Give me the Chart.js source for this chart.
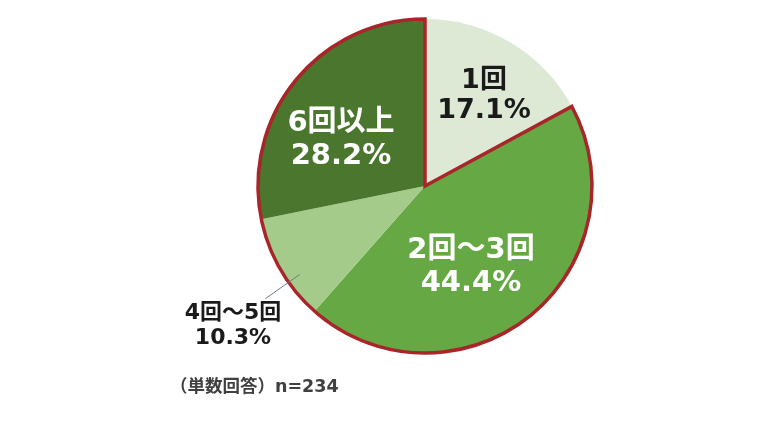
<!DOCTYPE html>
<html>
<head>
<meta charset="utf-8">
<script src="https://cdn.jsdelivr.net/npm/chart.js@4.4.1/dist/chart.umd.min.js"></script>
<style>
  html, body { margin: 0; padding: 0; background: #fff; }
  #wrap { width: 770px; height: 433px; }
</style>
</head>
<body>
<div id="wrap"><canvas id="myChart" width="770" height="433"></canvas></div>
<script>
// data
var categories = ['1回', '2回～3回', '4回～5回', '6回以上'];
var shares = [17.1, 44.4, 10.3, 28.2];
var sliceColors = ['#dde9d4', '#66a843', '#a5cb8b', '#4a772d'];
var note = '（単数回答）n=234';

var FONT = '"DejaVu Sans", "Noto Sans CJK JP", sans-serif';
var RED = '#a8252a';

// label placement (offset from the pie centre) and styling
var labelStyle = [
  { dx: 59,  dy: -90, size: 27, color: '#1a1a1a' },
  { dx: 46,  dy: 81,  size: 29, color: '#ffffff' },
  { dx: -192, dy: 140, size: 22, color: '#1a1a1a' },
  { dx: -84, dy: -46, size: 29, color: '#ffffff' }
];

var outlinePlugin = {
  id: 'outline',
  afterDatasetsDraw: function(chart) {
    var ctx = chart.ctx;
    var arcs = chart.getDatasetMeta(0).data;
    var first = arcs[0];
    var cx = first.x, cy = first.y, r = first.outerRadius;
    // red outline round everything except the first slice
    ctx.save();
    ctx.strokeStyle = RED;
    ctx.lineWidth = 3.5;
    ctx.lineJoin = 'miter';
    ctx.beginPath();
    ctx.moveTo(cx, cy);
    ctx.lineTo(cx + r * Math.cos(first.endAngle), cy + r * Math.sin(first.endAngle));
    ctx.arc(cx, cy, r, first.endAngle, first.startAngle + Math.PI * 2);
    ctx.closePath();
    ctx.stroke();

    // leader line for the small slice
    var a = arcs[2];
    var mid = (a.startAngle + a.endAngle) / 2 - 0.09;
    ctx.strokeStyle = '#6d7b88';
    ctx.lineWidth = 1;
    ctx.beginPath();
    ctx.moveTo(cx + r * 0.92 * Math.cos(mid), cy + r * 0.92 * Math.sin(mid));
    ctx.lineTo(cx + r * 1.17 * Math.cos(mid), cy + r * 1.17 * Math.sin(mid));
    ctx.stroke();

    // slice labels
    ctx.textAlign = 'center';
    ctx.textBaseline = 'middle';
    categories.forEach(function(cat, i) {
      var s = labelStyle[i];
      ctx.fillStyle = s.color;
      ctx.font = 'bold ' + s.size + 'px ' + FONT;
      var gap = s.size * 1.12;
      ctx.fillText(cat, cx + s.dx, cy + s.dy - gap / 2);
      ctx.fillText(shares[i].toFixed(1) + '%', cx + s.dx, cy + s.dy + gap / 2);
    });

    // footnote
    ctx.fillStyle = '#404040';
    ctx.font = 'bold 17.5px ' + FONT;
    ctx.textAlign = 'left';
    ctx.fillText(note, 170, 387);
    ctx.restore();
  }
};

var ctx = document.getElementById('myChart');
var chart = new Chart(ctx, {
  type: 'pie',
  data: {
    labels: categories,
    datasets: [{
      data: shares,
      backgroundColor: sliceColors,
      borderWidth: 0,
      hoverOffset: 0
    }]
  },
  options: {
    responsive: false,
    animation: false,
    radius: 167,
    layout: { padding: { left: 80, bottom: 61 } },
    plugins: {
      legend: { display: false },
      tooltip: { enabled: false }
    }
  },
  plugins: [outlinePlugin]
});
</script>
</body>
</html>
